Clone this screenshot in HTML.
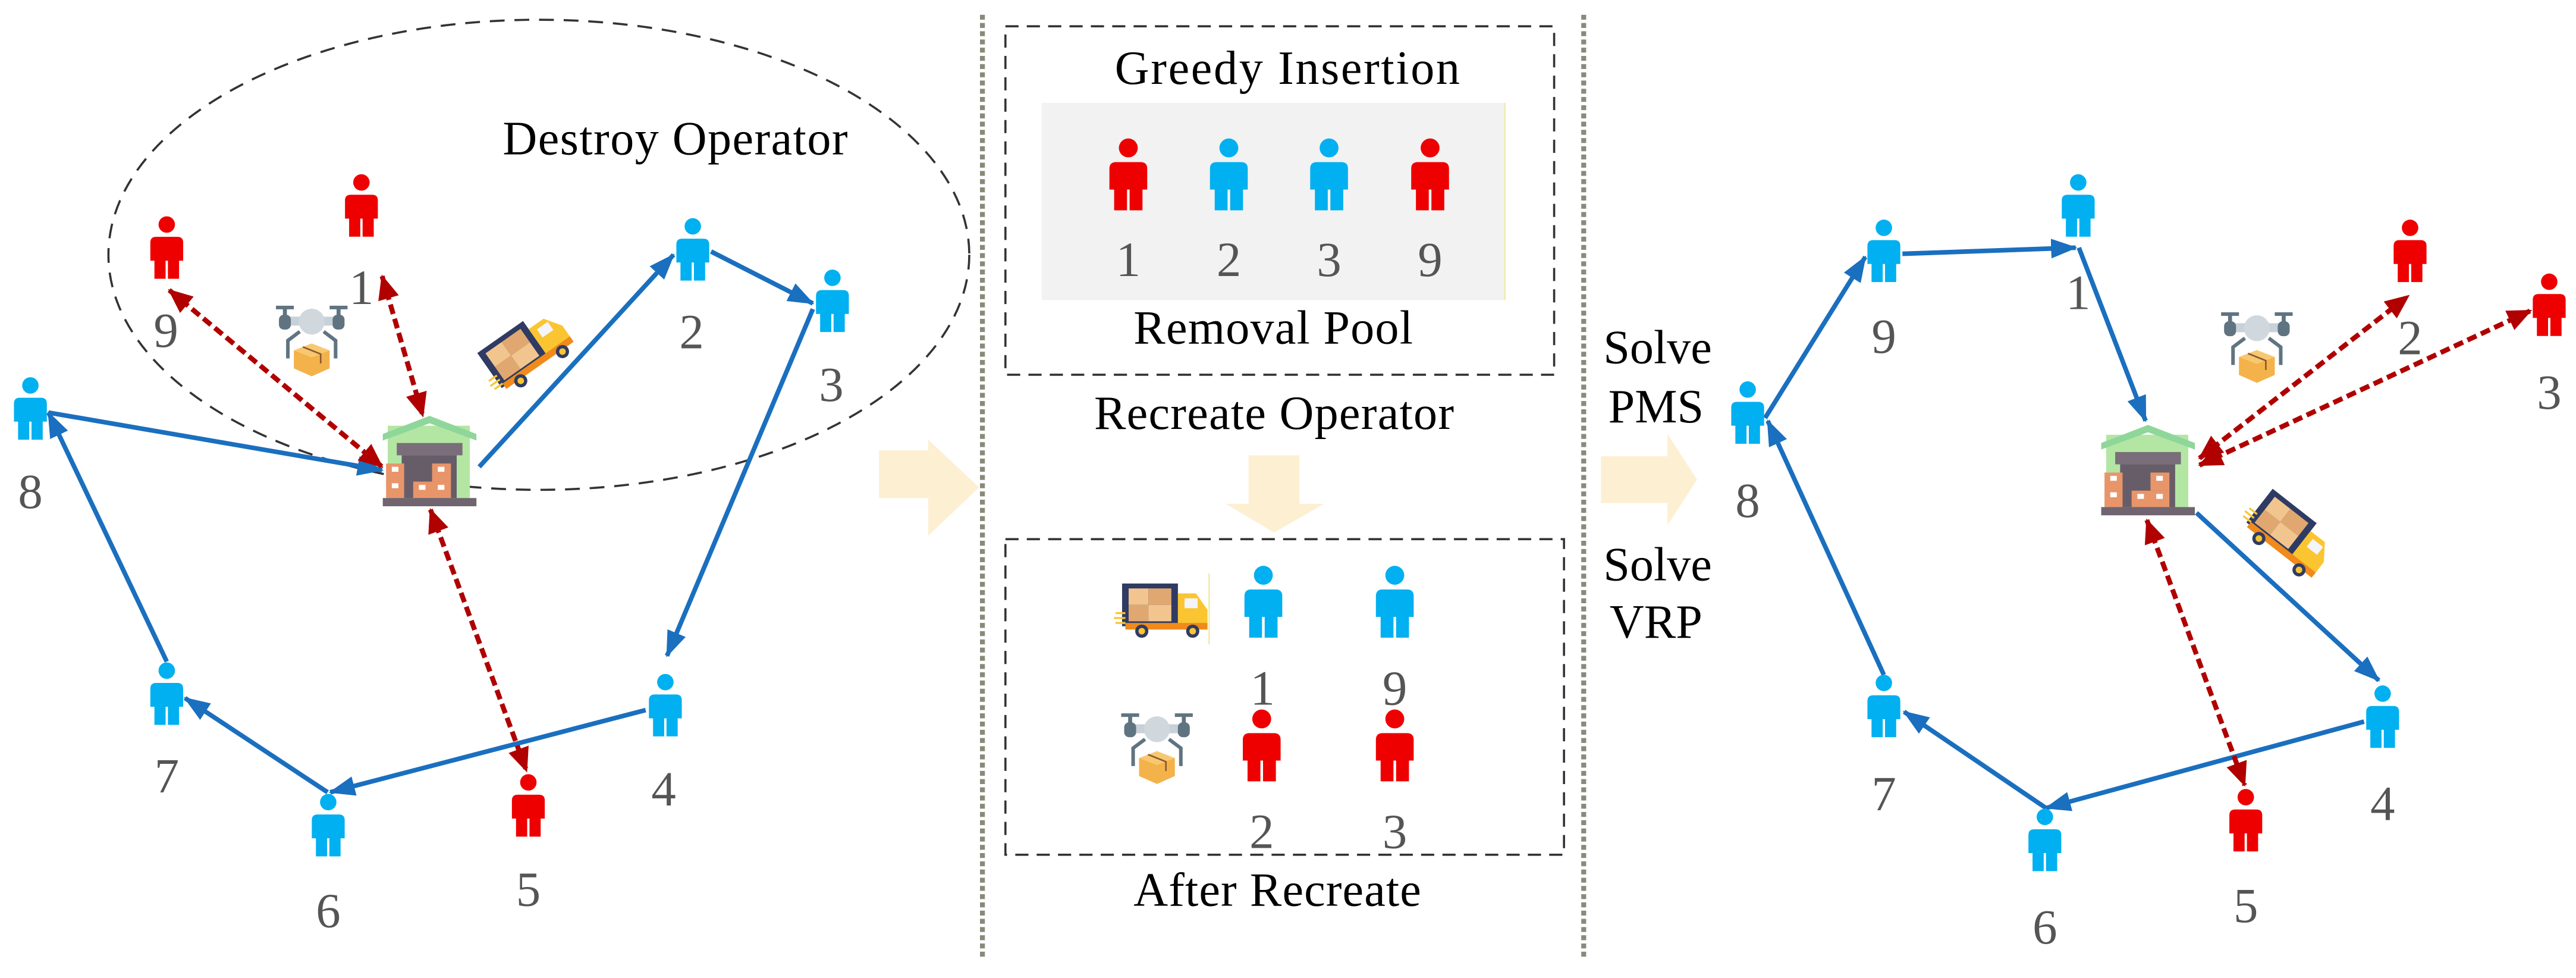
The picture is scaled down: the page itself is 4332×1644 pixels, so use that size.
<!DOCTYPE html>
<html><head><meta charset="utf-8"><style>
html,body{margin:0;padding:0;background:#fff;}
svg{display:block;}
svg text{font-family:"Liberation Serif","DejaVu Serif",serif;}
</style></head><body>
<svg width="4332" height="1644" viewBox="0 0 1568 595" preserveAspectRatio="none" xmlns="http://www.w3.org/2000/svg" font-family="Liberation Serif, DejaVu Serif, serif">
<defs>
<marker id="ab" markerUnits="userSpaceOnUse" markerWidth="16" markerHeight="12" refX="15" refY="6" orient="auto"><path d="M0,0 L16,6 L0,12 Z" fill="#1a6fbf"/></marker>
<marker id="ar" markerUnits="userSpaceOnUse" markerWidth="15" markerHeight="13" refX="14" refY="6.5" orient="auto-start-reverse"><path d="M0,0 L15,6.5 L0,13 Z" fill="#b00000"/></marker>
<g id="pb"><circle cx="0" cy="0" r="5" fill="#00b0f0"/><path d="M-10,11 Q-10,7.5 -6.5,7.5 H6.5 Q10,7.5 10,11 V22 H-10 Z" fill="#00b0f0"/><rect x="-7.5" y="21" width="6.8" height="12" fill="#00b0f0"/><rect x="0.7" y="21" width="6.8" height="12" fill="#00b0f0"/></g>
<g id="pr"><circle cx="0" cy="0" r="5" fill="#ee0000"/><path d="M-10,11 Q-10,7.5 -6.5,7.5 H6.5 Q10,7.5 10,11 V22 H-10 Z" fill="#ee0000"/><rect x="-7.5" y="21" width="6.8" height="12" fill="#ee0000"/><rect x="0.7" y="21" width="6.8" height="12" fill="#ee0000"/></g>
<g id="depot">
<rect x="3" y="6" width="50" height="45" fill="#b3e6a3"/>
<polygon points="0,11 28.5,0 57,11 57,15 28.5,4.5 0,15" fill="#8fd69a"/>
<rect x="8.5" y="16.5" width="40" height="7.5" fill="#7a6e7a"/>
<rect x="11.5" y="24" width="33.5" height="26" fill="#675d68"/>
<rect x="2" y="29" width="11" height="21" fill="#e8956a"/>
<rect x="18.5" y="40" width="23" height="10" fill="#e8956a"/>
<rect x="30" y="29" width="11.5" height="11" fill="#e8956a"/>
<rect x="5.5" y="31" width="4" height="3" fill="#fff"/><rect x="5.5" y="41" width="4" height="3" fill="#fff"/>
<rect x="33.5" y="31" width="4" height="3" fill="#fff"/><rect x="22" y="42" width="4" height="3" fill="#fff"/><rect x="33.5" y="42" width="4" height="3" fill="#fff"/>
<rect x="0" y="50" width="57" height="5" fill="#6f6470"/>
</g>
<g id="drone">
<rect x="70" y="95" width="90" height="18" fill="#5f7480"/><rect x="340" y="95" width="90" height="18" fill="#5f7480"/>
<rect x="105" y="110" width="20" height="35" fill="#5f7480"/><rect x="375" y="110" width="20" height="35" fill="#5f7480"/>
<rect x="140" y="150" width="220" height="45" fill="#c8d0d8"/>
<rect x="85" y="140" width="60" height="75" rx="25" fill="#5f7480"/><rect x="355" y="140" width="60" height="75" rx="25" fill="#5f7480"/>
<circle cx="250" cy="175" r="65" fill="#d0d8de"/>
<path d="M190,225 L130,270 L130,360 M310,225 L370,270 L370,360" stroke="#5f7480" stroke-width="18" fill="none"/>
<polygon points="160,320 250,285 340,320 340,410 250,450 160,410" fill="#f4b24a"/>
<polygon points="160,320 250,285 340,320 250,355" fill="#f8c870"/>
<path d="M205,302 L295,338 L295,385" stroke="#8a5a30" stroke-width="8" fill="none"/>
</g>
<g id="truck">
<rect x="0" y="0" width="34" height="26" fill="#2f3b63"/>
<rect x="4" y="3" width="12" height="10" fill="#f2c58f"/><rect x="16" y="3" width="14" height="10" fill="#e0a870"/>
<rect x="4" y="13" width="12" height="10" fill="#e0a870"/><rect x="16" y="13" width="14" height="10" fill="#f2c58f"/>
<path d="M34,6 H45 L52,16 V26 H34 Z" fill="#fbc531"/>
<rect x="38" y="9" width="8" height="6" fill="#f4f4fb"/>
<rect x="2" y="24" width="50" height="4" fill="#f08a1a"/>
<circle cx="12" cy="29" r="4" fill="#2f3b63"/><circle cx="12" cy="29" r="2" fill="#fbc531"/>
<circle cx="43" cy="29" r="4" fill="#2f3b63"/><circle cx="43" cy="29" r="2" fill="#fbc531"/>
<path d="M-4,18 H2 M-5,21 H2 M-4,24 H2" stroke="#fbc531" stroke-width="1.2"/>
</g>
</defs>

<!-- LEFT PANEL -->
<ellipse cx="328" cy="155" rx="262" ry="143" fill="none" stroke="#333" stroke-width="1.3" stroke-dasharray="9,6"/>
<text x="306" y="94" font-size="29" textLength="210" fill="#000">Destroy Operator</text>

<g stroke="#1a6fbf" stroke-width="2.8" fill="none" marker-end="url(#ab)">
<line x1="291.7" y1="284" x2="410" y2="155"/>
<line x1="432.8" y1="153" x2="494.8" y2="184.6"/>
<line x1="494.8" y1="188" x2="406" y2="399"/>
<line x1="393" y1="432" x2="201" y2="482"/>
<line x1="199.4" y1="482" x2="112.6" y2="424.7"/>
<line x1="101.5" y1="402.5" x2="29.5" y2="251"/>
<line x1="29.5" y1="251" x2="232.6" y2="286"/>
</g>
<g stroke="#b00000" stroke-width="3" fill="none" stroke-dasharray="6,3" marker-start="url(#ar)" marker-end="url(#ar)">
<line x1="103" y1="176.5" x2="232.6" y2="284"/>
<line x1="232.6" y1="168" x2="257.4" y2="253"/>
<line x1="262" y1="310" x2="320.5" y2="469"/>
</g>
<use href="#depot" transform="translate(233,253)"/>
<use href="#drone" transform="translate(159.5,174.5) scale(0.121)"/>
<use href="#truck" transform="translate(321,213) rotate(-35) translate(-26,-16)"/>

<use href="#pr" x="101.5" y="136.6"/><use href="#pr" x="220" y="111"/>
<use href="#pb" x="421.7" y="137.7"/><use href="#pb" x="506.7" y="169"/>
<use href="#pb" x="18.5" y="234.5"/><use href="#pb" x="101.5" y="408"/>
<use href="#pb" x="199.8" y="488"/><use href="#pr" x="321.6" y="476"/>
<use href="#pb" x="405" y="415"/>
<g font-size="30" fill="#555" text-anchor="middle">
<text x="101" y="211">9</text><text x="220" y="185">1</text><text x="421" y="212">2</text><text x="506" y="244">3</text>
<text x="18.5" y="309">8</text><text x="101.5" y="482">7</text><text x="199.8" y="564">6</text><text x="321.6" y="551">5</text><text x="404" y="490">4</text>
</g>

<polygon points="535,274 565,274 565,267.5 596,296.5 565,326 565,303 535,303" fill="#fdf0d2"/>

<line x1="598" y1="9" x2="598" y2="583" stroke="#8a8a7a" stroke-width="3" stroke-dasharray="3,2"/>
<line x1="964" y1="9" x2="964" y2="583" stroke="#8a8a7a" stroke-width="3" stroke-dasharray="3,2"/>

<!-- MIDDLE -->
<rect x="612" y="16" width="334" height="212" fill="none" stroke="#333" stroke-width="1.3" stroke-dasharray="8,5"/>
<text x="678.6" y="51" font-size="29" textLength="210" fill="#000">Greedy  Insertion</text>
<rect x="634" y="62.6" width="282" height="120" fill="#f2f2f2"/>
<line x1="916" y1="62.6" x2="916" y2="182.6" stroke="#f0ecb0" stroke-width="1"/>
<use href="#pr" transform="translate(686.8,90) scale(1.15)"/>
<use href="#pb" transform="translate(748,90) scale(1.15)"/>
<use href="#pb" transform="translate(809,90) scale(1.15)"/>
<use href="#pr" transform="translate(870.5,90) scale(1.15)"/>
<g font-size="30" fill="#555" text-anchor="middle">
<text x="686.8" y="168">1</text><text x="748" y="168">2</text><text x="809" y="168">3</text><text x="870.5" y="168">9</text>
</g>
<text x="690" y="209" font-size="29" textLength="170" fill="#000">Removal Pool</text>
<text x="666" y="261" font-size="29" textLength="219" fill="#000">Recreate Operator</text>
<polygon points="760,277 791,277 791,306.5 806,306.5 775.5,324 746,306.5 760,306.5" fill="#fdf0d2"/>

<rect x="612" y="328" width="340" height="192" fill="none" stroke="#333" stroke-width="1.3" stroke-dasharray="8,5"/>
<use href="#truck" transform="translate(683,355)"/>
<line x1="736" y1="349" x2="736" y2="392" stroke="#f0ecb0" stroke-width="1"/>
<use href="#drone" transform="translate(674,422.5) scale(0.121)"/>
<use href="#pb" transform="translate(769,350) scale(1.15)"/>
<use href="#pb" transform="translate(849,350) scale(1.15)"/>
<use href="#pr" transform="translate(768,437.4) scale(1.15)"/>
<use href="#pr" transform="translate(849,437.4) scale(1.15)"/>
<g font-size="30" fill="#555" text-anchor="middle">
<text x="768.5" y="428.7">1</text><text x="849" y="428.7">9</text><text x="768" y="516">2</text><text x="849" y="516">3</text>
</g>
<text x="690" y="551" font-size="29" textLength="175" fill="#000">After Recreate</text>

<g font-size="29" fill="#000" text-anchor="middle">
<text x="1009" y="221">Solve</text><text x="1008" y="257">PMS</text>
<text x="1009" y="353">Solve</text><text x="1008" y="388">VRP</text>
</g>
<polygon points="974.5,277.6 1015,277.6 1015,264 1033,291.8 1015,319.5 1015,306 974.5,306" fill="#fdf0d2"/>

<!-- RIGHT PANEL -->
<g stroke="#1a6fbf" stroke-width="2.8" fill="none" marker-end="url(#ab)">
<line x1="1074.4" y1="254.3" x2="1135.4" y2="156.3"/>
<line x1="1158" y1="154.4" x2="1263.5" y2="150.7"/>
<line x1="1265.4" y1="150.7" x2="1306" y2="256"/>
<line x1="1337" y1="312" x2="1448" y2="414"/>
<line x1="1439" y1="439" x2="1245.4" y2="491.6"/>
<line x1="1245.4" y1="491.6" x2="1159" y2="433"/>
<line x1="1146.7" y1="410.6" x2="1076" y2="256"/>
</g>
<g stroke="#b00000" stroke-width="3" fill="none" stroke-dasharray="6,3" marker-start="url(#ar)" marker-end="url(#ar)">
<line x1="1338.8" y1="278.8" x2="1466" y2="180"/>
<line x1="1338.8" y1="283" x2="1540.4" y2="189"/>
<line x1="1306.8" y1="316.4" x2="1366.3" y2="477.7"/>
</g>
<use href="#depot" transform="translate(1279,258.5)"/>
<use href="#drone" transform="translate(1343.5,178.5) scale(0.121)"/>
<use href="#truck" transform="translate(1394,326) rotate(38) translate(-26,-16)"/>

<use href="#pb" x="1265" y="111"/><use href="#pb" x="1146.7" y="138.6"/>
<use href="#pb" x="1063.8" y="237"/><use href="#pb" x="1146.7" y="415.5"/>
<use href="#pb" x="1244.7" y="497"/><use href="#pr" x="1367" y="485"/>
<use href="#pb" x="1450.3" y="422"/><use href="#pr" x="1467" y="138.6"/>
<use href="#pr" x="1551.7" y="171.4"/>
<g font-size="30" fill="#555" text-anchor="middle">
<text x="1265" y="188">1</text><text x="1146.7" y="214.7">9</text><text x="1063.8" y="314.5">8</text>
<text x="1146.7" y="493">7</text><text x="1244.7" y="574">6</text><text x="1367" y="561">5</text>
<text x="1450.3" y="499">4</text><text x="1467" y="215.5">2</text><text x="1551.7" y="248.6">3</text>
</g>
</svg>
</body></html>
